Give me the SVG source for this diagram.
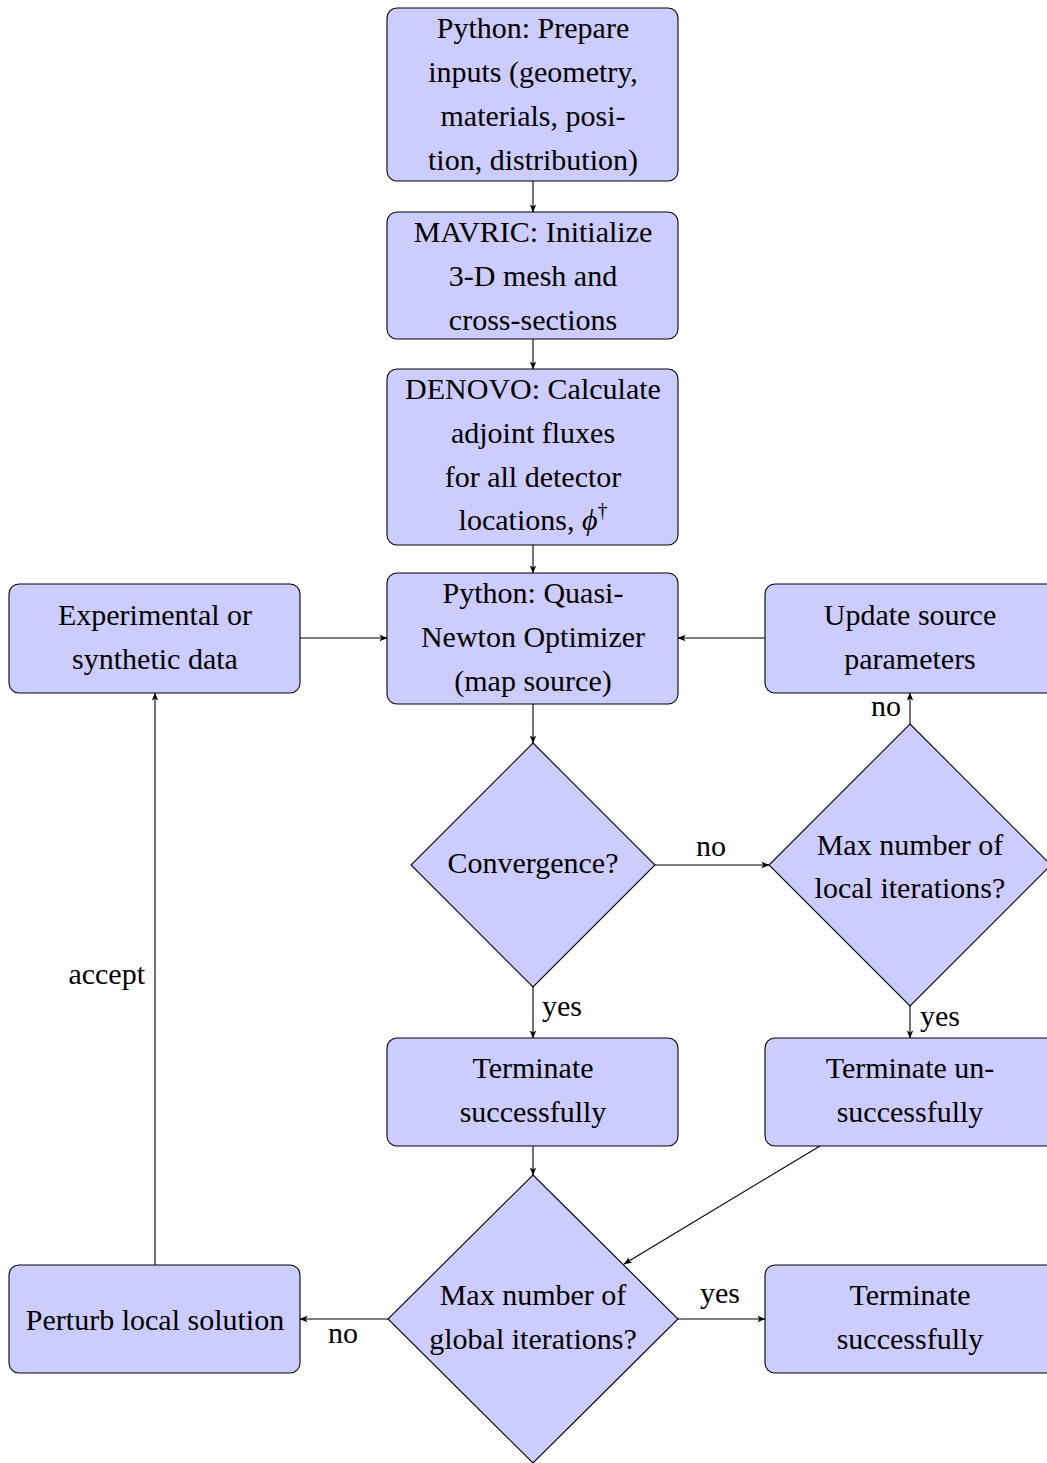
<svg xmlns="http://www.w3.org/2000/svg" width="1047" height="1463" viewBox="0 0 1047 1463">
<style>
.n{fill:#ccccff;stroke:#000;stroke-width:1.1}
text{font-family:"Liberation Serif","DejaVu Serif",serif;font-size:30px;fill:#000;text-anchor:middle}
.c{fill:none;stroke:#000;stroke-width:1.1;marker-end:url(#a)}
</style>
<defs>
<marker id="a" viewBox="0 0 10 10" refX="9.5" refY="5" markerWidth="8" markerHeight="8" markerUnits="userSpaceOnUse" orient="auto">
<path d="M0,1 L10,5 L0,9 L2.5,5 Z" fill="#000"/>
</marker>
</defs>
<rect width="1047" height="1463" fill="#fff"/>
<g id="n1"><rect class="n" x="387" y="8" width="291" height="173" rx="10"/>
<text x="533" y="38">Python: Prepare</text><text x="533" y="82">inputs (geometry,</text><text x="533" y="126">materials, posi-</text><text x="533" y="170">tion, distribution)</text></g>
<g id="n2"><rect class="n" x="387" y="212" width="291" height="127" rx="10"/>
<text x="533" y="242">MAVRIC: Initialize</text><text x="533" y="286">3-D mesh and</text><text x="533" y="330">cross-sections</text></g>
<g id="n3"><rect class="n" x="387" y="369" width="291" height="176" rx="10"/>
<text x="533" y="399">DENOVO: Calculate</text><text x="533" y="443">adjoint fluxes</text><text x="533" y="487">for all detector</text><text x="533" y="530">locations, <tspan font-style="italic">ϕ</tspan><tspan font-size="20" dy="-13">†</tspan></text></g>
<g id="n4"><rect class="n" x="387" y="573" width="291" height="131" rx="10"/>
<text x="533" y="603">Python: Quasi-</text><text x="533" y="647">Newton Optimizer</text><text x="533" y="691">(map source)</text></g>
<g id="n5"><rect class="n" x="9" y="584" width="291" height="109" rx="10"/>
<text x="155" y="625">Experimental or</text><text x="155" y="669">synthetic data</text></g>
<g id="n6"><rect class="n" x="765" y="584" width="291" height="109" rx="10"/>
<text x="910" y="625">Update source</text><text x="910" y="669">parameters</text></g>
<g id="n7"><polygon class="n" points="533,743 655,865 533,987 411,865"/>
<text x="533" y="873">Convergence?</text></g>
<g id="n8"><polygon class="n" points="910,724 1051,865 910,1006 769,865"/>
<text x="910" y="855">Max number of</text><text x="910" y="898">local iterations?</text></g>
<g id="n9"><rect class="n" x="387" y="1038" width="291" height="108" rx="10"/>
<text x="533" y="1078">Terminate</text><text x="533" y="1122">successfully</text></g>
<g id="n10"><rect class="n" x="765" y="1038" width="291" height="108" rx="10"/>
<text x="910" y="1078">Terminate un-</text><text x="910" y="1122">successfully</text></g>
<g id="n11"><polygon class="n" points="533,1175 678,1319 533,1463 388,1319"/>
<text x="533" y="1305">Max number of</text><text x="533" y="1349">global iterations?</text></g>
<g id="n12"><rect class="n" x="9" y="1265" width="291" height="108" rx="10"/>
<text x="155" y="1330">Perturb local solution</text></g>
<g id="n13"><rect class="n" x="765" y="1265" width="291" height="108" rx="10"/>
<text x="910" y="1305">Terminate</text><text x="910" y="1349">successfully</text></g>
<g id="edges">
<line class="c" x1="533" y1="181" x2="533" y2="212"/>
<line class="c" x1="533" y1="339" x2="533" y2="369"/>
<line class="c" x1="533" y1="545" x2="533" y2="573"/>
<line class="c" x1="300" y1="638" x2="387" y2="638"/>
<line class="c" x1="765" y1="638" x2="678" y2="638"/>
<line class="c" x1="533" y1="704" x2="533" y2="743"/>
<line class="c" x1="655" y1="865" x2="769" y2="865"/>
<text x="711" y="856">no</text>
<line class="c" x1="910" y1="724" x2="910" y2="693"/>
<text x="901" y="716" style="text-anchor:end">no</text>
<line class="c" x1="910" y1="1006" x2="910" y2="1038"/>
<text x="920" y="1026" style="text-anchor:start">yes</text>
<line class="c" x1="533" y1="987" x2="533" y2="1038"/>
<text x="542" y="1016" style="text-anchor:start">yes</text>
<line class="c" x1="533" y1="1146" x2="533" y2="1175"/>
<line class="c" x1="820" y1="1146" x2="624" y2="1264"/>
<line class="c" x1="388" y1="1319" x2="300" y2="1319"/>
<text x="343" y="1343">no</text>
<line class="c" x1="678" y1="1319" x2="765" y2="1319"/>
<text x="720" y="1303">yes</text>
<line class="c" x1="155" y1="1265" x2="155" y2="693"/>
<text x="145" y="984" style="text-anchor:end">accept</text>
</g>
</svg>
